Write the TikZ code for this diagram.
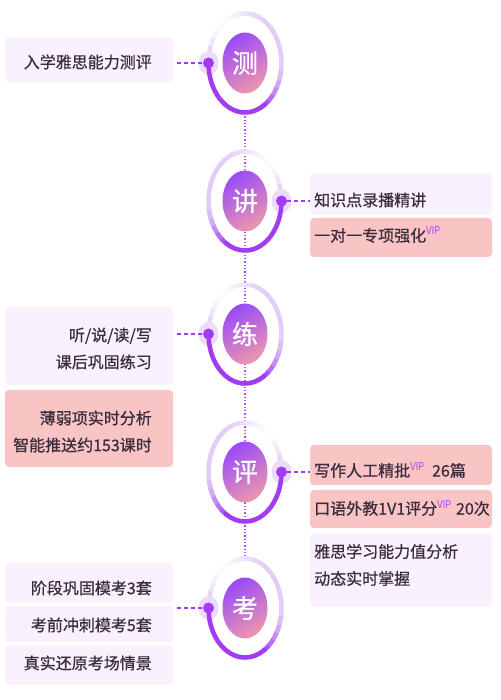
\documentclass[tikz,border=0pt]{standalone}
\usepackage{graphicx}
\usepackage{fontspec}
\setmainfont[FakeBold=0.6]{Noto Sans CJK SC}
\newfontfamily\vipfont{Liberation Sans}
\usetikzlibrary{shapes.geometric}
\definecolor{txtc}{HTML}{3A2C3D}
\definecolor{lavc}{HTML}{F9F2FC}
\definecolor{pinkc}{HTML}{F8C4C4}
\definecolor{purp}{HTML}{A23CF2}
\definecolor{ringl}{HTML}{E2CCF8}
\definecolor{haloc}{HTML}{ECDCFA}
\definecolor{gradL}{HTML}{9A4CF8}
\definecolor{gradR}{HTML}{EC95AE}
\definecolor{vipc}{HTML}{B040F0}
\definecolor{vline}{HTML}{B050F4}
\newcommand\vipmark{\raisebox{6.5pt}{\scalebox{0.75}[1]{\vipfont\fontsize{11.5}{11.5}\selectfont\color{vipc}VIP}}}
\newcommand\stagering[3]{%
\begin{scope}[shift={#1}, xscale=#2]
 \foreach \a/\p in {0/100,10/100,20/100,30/100,40/100,50/100,60/90,70/80,80/65,90/50,100/35,110/20,120/10,130/10,140/25,150/50,160/80,170/100,180/100,190/100,200/100,210/100,220/100,230/100,240/100,250/100,260/100,270/100,280/100,290/100,300/100,310/100,320/100,330/100,340/100,350/100}
  {\draw[line width=4.5, draw=ringl!\p!white] (\a:36.5 and 49.5) arc[start angle=\a, end angle=\a+11, x radius=36.5, y radius=49.5];}
 \fill[haloc] (-36.5,0) ellipse [x radius=10, y radius=12];
 \foreach \a/\p in {300/85,310/65,320/45,330/25,340/10}
  {\draw[line width=4.5, draw=purp!\p!ringl] (\a:36.5 and 49.5) arc[start angle=\a, end angle=\a+11, x radius=36.5, y radius=49.5];}
 \draw[line width=4.5, purp, line cap=round] (180:36.5 and 49.5) arc[start angle=180, end angle=302, x radius=36.5, y radius=49.5];
 \node[dotn] (#3) at (-36.5,0) {};
\end{scope}}
\tikzset{
 x=1pt, y=1pt,
 dotn/.style={circle, fill=purp, minimum size=11pt, inner sep=0pt},
 inner/.style={ellipse, minimum width=45pt, minimum height=61pt, inner sep=0pt, left color=gradL, right color=gradR, shading angle=30, text=white, font=\fontsize{26}{26}\selectfont},
 lavbox/.style={fill=lavc, rounded corners=4pt, inner sep=0pt},
 pinkbox/.style={fill=pinkc, rounded corners=4pt, inner sep=0pt},
 txt/.style={text=txtc, font=\fontsize{16}{27}\selectfont, inner sep=0pt},
 ltxt/.style={txt, anchor=east, align=right},
 rtxt/.style={txt, anchor=west, align=left},
 conn/.style={draw=purp, line width=1.2pt, dash pattern=on 4pt off 3pt},
 vdots/.style={draw=vline, line width=1.2pt, dash pattern=on 1.3pt off 2pt}
}
\begin{document}
\begin{tikzpicture}
\fill[white] (0,0) rectangle (500,700);
\useasboundingbox (0,0) rectangle (500,700);
% vertical dotted spine
\coordinate (vtop) at (245,587);
\coordinate (vbot) at (245,141);
\draw[vdots] (vtop) -- (vbot);
% rings
\stagering{(245,637)}{1}{d1}
\stagering{(245,499)}{-1}{d2}
\stagering{(245,366)}{1}{d3}
\stagering{(245,228)}{-1}{d4}
\stagering{(245,92)}{1}{d5}
% inner circles
\node[inner] (c1) at (245,637) {测};
\node[inner] (c2) at (245,499) {讲};
\node[inner] (c3) at (245,366) {练};
\node[inner] (c4) at (245,228) {评};
\node[inner] (c5) at (245,92) {考};
% boxes
\node[lavbox, minimum width=168pt, minimum height=45pt] (b1) at (89,640.5) {};
\node[lavbox, minimum width=182pt, minimum height=42pt] (b2a) at (401,506) {};
\node[pinkbox, minimum width=182pt, minimum height=39pt] (b2b) at (401,462.5) {};
\node[lavbox, minimum width=168pt, minimum height=78pt] (b3a) at (89,354) {};
\node[pinkbox, minimum width=168pt, minimum height=77pt] (b3b) at (89,271.5) {};
\node[pinkbox, minimum width=182pt, minimum height=40pt] (b4a) at (401,235) {};
\node[pinkbox, minimum width=182pt, minimum height=38pt] (b4b) at (401,191) {};
\node[lavbox, minimum width=182pt, minimum height=74pt] (b4c) at (401,130) {};
\node[lavbox, minimum width=168pt, minimum height=40pt] (b5a) at (89,117) {};
\node[lavbox, minimum width=168pt, minimum height=36pt] (b5b) at (89,76) {};
\node[lavbox, minimum width=168pt, minimum height=40pt] (b5c) at (89,35) {};
% texts
\node[ltxt] (t1) at (152,638) {入学雅思能力测评};
\node[rtxt] (t2a) at (314,500) {知识点录播精讲};
\node[rtxt] (t2b) at (314,465) {一对一专项强化\vipmark};
\node[ltxt] (t3a) at (152,351.5) {听/说/读/写\\课后巩固练习};
\node[ltxt] (t3b) at (152,268.5) {薄弱项实时分析\\智能推送约153课时};
\node[rtxt] (t4a) at (314,230) {写作人工精批\vipmark\hspace{8pt}26篇};
\node[rtxt] (t4b) at (314,192) {口语外教1V1评分\vipmark\hspace{5pt}20次};
\node[rtxt] (t4c) at (314,135) {雅思学习能力值分析\\动态实时掌握};
\node[ltxt] (t5a) at (152,112) {阶段巩固模考3套};
\node[ltxt] (t5b) at (152,75) {考前冲刺模考5套};
\node[ltxt] (t5c) at (152,37) {真实还原考场情景};
% connectors
\draw[conn, shorten <=4pt] (b1.east |- d1) -- (d1);
\draw[conn] (d2) -- (b2a.west |- d2);
\draw[conn, shorten <=4pt] (b3a.east |- d3) -- (d3);
\draw[conn] (d4) -- (b4a.west |- d4);
\draw[conn, shorten <=4pt] (b5b.east |- d5) -- (d5);
\end{tikzpicture}
\end{document}
